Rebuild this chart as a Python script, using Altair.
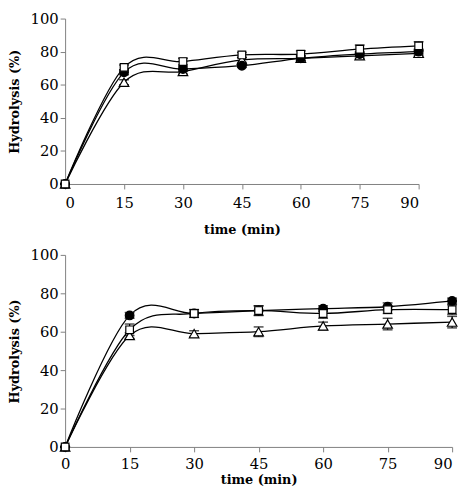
import altair as alt
import pandas as pd

time = [0, 15, 30, 45, 60, 75, 90]
series_names = ["triangle", "circle", "square"]

# Top panel
top_triangle = [0, 61.5, 68, 75, 76, 77.5, 79]
top_circle = [0, 67.5, 69.5, 71.5, 76, 78.5, 80]
top_square = [0, 70.5, 74, 78, 78.5, 81.5, 83.5]
top_triangle_err = [0, 1.5, 1.5, 1.5, 1.5, 1.5, 1.5]
top_circle_err = [0, 1.5, 1.5, 1.0, 1.5, 1.5, 1.5]
top_square_err = [0, 1.5, 2.0, 1.5, 2.0, 2.5, 2.5]

# Bottom panel
bot_triangle = [0, 58, 59, 60, 63, 64, 65]
bot_circle = [0, 68.5, 69.5, 71, 72, 73, 76]
bot_square = [0, 61, 69.5, 71, 69.5, 71.5, 71.5]
bot_triangle_err = [0, 1.5, 1.5, 2.5, 2.0, 3.0, 3.0]
bot_circle_err = [0, 1.5, 2.0, 2.5, 1.5, 2.0, 1.5]
bot_square_err = [0, 3.0, 2.0, 2.5, 2.5, 2.0, 2.5]

y_ticks = [0, 20, 40, 60, 80, 100]


def build(vals, errs):
    rows = []
    for name in series_names:
        for t, v, e in zip(time, vals[name], errs[name]):
            rows.append({"series": name, "time": t, "value": v, "lo": v - e, "hi": v + e})
    return pd.DataFrame(rows)


top_df = build(
    {"triangle": top_triangle, "circle": top_circle, "square": top_square},
    {"triangle": top_triangle_err, "circle": top_circle_err, "square": top_square_err},
)
bot_df = build(
    {"triangle": bot_triangle, "circle": bot_circle, "square": bot_square},
    {"triangle": bot_triangle_err, "circle": bot_circle_err, "square": bot_square_err},
)

FONT = "DejaVu Serif"


def panel(df, width, height, label_pad, title_pad, flush_last):
    xs = alt.Scale(domain=[0, 90], nice=False, zero=False)
    ys = alt.Scale(domain=[0, 100], nice=False, zero=False)
    xa_kwargs = dict(values=time, title="time (min)", labelOverlap=False,
                     labelPadding=label_pad, titlePadding=title_pad)
    if flush_last:
        xa_kwargs["labelAlign"] = {"condition": {"test": "datum.value == 90", "value": "right"},
                                   "value": "center"}
    xa = alt.Axis(**xa_kwargs)
    ya = alt.Axis(values=y_ticks, title="Hydrolysis (%)", labelOverlap=False)

    def X(f):
        return alt.X(f, type="quantitative", scale=xs, axis=xa)

    def Y(f):
        return alt.Y(f, type="quantitative", scale=ys, axis=ya)

    base = alt.Chart(df)
    line = base.mark_line(interpolate="cardinal", tension=0, color="black", strokeWidth=1.3).encode(
        x=X("time"), y=Y("value"), detail="series:N")
    err = base.mark_rule(color="black", strokeWidth=1.2).encode(
        x=X("time"), y=Y("lo"), y2="hi:Q")
    cap_hi = base.mark_tick(color="black", orient="horizontal", size=10, thickness=1.5).encode(
        x=X("time"), y=Y("hi"))
    cap_lo = base.mark_tick(color="black", orient="horizontal", size=10, thickness=1.5).encode(
        x=X("time"), y=Y("lo"))
    pts = base.mark_point(filled=True, stroke="black", strokeWidth=1.2, opacity=1).encode(
        x=X("time"), y=Y("value"),
        shape=alt.Shape("series:N", scale=alt.Scale(domain=series_names,
                        range=["triangle-up", "circle", "square"]), legend=None),
        fill=alt.Fill("series:N", scale=alt.Scale(domain=series_names,
                      range=["white", "black", "white"]), legend=None),
        size=alt.Size("series:N", scale=alt.Scale(domain=series_names,
                      range=[95, 60, 80]), legend=None),
    )
    return alt.layer(line, err, cap_hi, cap_lo, pts).properties(width=width, height=height)


top = panel(top_df, 359, 168, 7, 13, False)
bottom = panel(bot_df, 393, 195, 5, 2, True)

chart = alt.vconcat(top, bottom, spacing=12).properties(
    padding={"left": 0, "top": 0, "right": 0, "bottom": 0}
).configure_view(
    stroke=None
).configure_axis(
    grid=False,
    domainColor="#808080",
    tickColor="#808080",
    tickSize=5,
    labelFont=FONT,
    labelFontSize=15,
    labelColor="black",
    labelOverlap=False,
    titleFont=FONT,
    titleFontSize=13,
    titleFontWeight="bold",
    titleColor="black",
).configure_axisY(titlePadding=9, labelPadding=2)

chart.save("out.html", embed_options={"renderer": "svg", "actions": False})
